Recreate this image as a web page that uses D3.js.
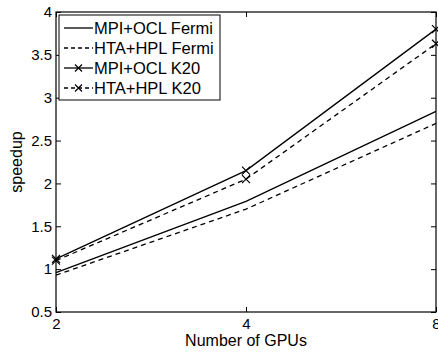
<!DOCTYPE html>
<html>
<head>
<meta charset="utf-8">
<script src="https://cdn.jsdelivr.net/npm/d3@7"></script>
<style>
  body { margin: 0; background: #fff; }
  text { font-family: "Liberation Sans", Arial, sans-serif; fill: #000; }
</style>
</head>
<body>
<div id="chart"></div>
<script>
// data
const gpus = [2, 4, 8];
const mpiFermi = [0.96, 1.79, 2.84];
const htaFermi = [0.93, 1.70, 2.70];
const mpiK20 = [1.12, 2.15, 3.80];
const htaK20 = [1.10, 2.05, 3.63];
const yTicks = [0.5, 1, 1.5, 2, 2.5, 3, 3.5, 4];
const seriesNames = ["MPI+OCL Fermi", "HTA+HPL Fermi", "MPI+OCL K20", "HTA+HPL K20"];

const series = [
  { name: seriesNames[0], vals: mpiFermi, dash: null, mark: false },
  { name: seriesNames[1], vals: htaFermi, dash: "5,4", mark: false },
  { name: seriesNames[2], vals: mpiK20, dash: null, mark: true },
  { name: seriesNames[3], vals: htaK20, dash: "5,4", mark: true }
];

const W = 438, H = 354;
const margin = {top: 12, right: 2, bottom: 42, left: 56};
const width = W - margin.left - margin.right;
const height = H - margin.top - margin.bottom;

const svg = d3.select("#chart").append("svg")
  .attr("width", W).attr("height", H);
const g = svg.append("g")
  .attr("transform", "translate(" + margin.left + "," + margin.top + ")");

const x = d3.scaleLog().base(2).domain([2, 8]).range([0, width]);
const y = d3.scaleLinear().domain([0.5, 4]).range([height, 0]);

// axes, MATLAB style with inward ticks on all sides
const tk = 5;
g.append("g").attr("transform", "translate(0," + height + ")")
  .call(d3.axisBottom(x).tickValues(gpus).tickFormat(d3.format("d")).tickSizeInner(-tk).tickSizeOuter(0).tickPadding(6))
  .call(a => a.select(".domain").remove());
g.append("g")
  .call(d3.axisTop(x).tickValues(gpus).tickFormat("").tickSizeInner(-tk).tickSizeOuter(0))
  .call(a => a.select(".domain").remove());
g.append("g")
  .call(d3.axisLeft(y).tickValues(yTicks).tickFormat(d3.format("")).tickSizeInner(-tk).tickSizeOuter(0).tickPadding(4))
  .call(a => a.select(".domain").remove());
g.append("g").attr("transform", "translate(" + width + ",0)")
  .call(d3.axisRight(y).tickValues(yTicks).tickFormat("").tickSizeInner(-tk).tickSizeOuter(0))
  .call(a => a.select(".domain").remove());
g.selectAll(".tick text").style("font-size", "15px").style("font-family", "Liberation Sans, Arial, sans-serif");
g.selectAll(".tick line").attr("stroke", "#000");

g.append("rect").attr("width", width).attr("height", height)
  .attr("fill", "none").attr("stroke", "#000").attr("stroke-width", 1.2);

// lines
const line = d3.line().x((d, i) => x(gpus[i])).y(d => y(d));
series.forEach(s => {
  g.append("path").datum(s.vals)
    .attr("d", line)
    .attr("fill", "none").attr("stroke", "#000").attr("stroke-width", 1.3)
    .attr("stroke-dasharray", s.dash);
  if (s.mark) {
    g.selectAll(null).data(s.vals).enter().append("path")
      .attr("transform", (d, i) => "translate(" + x(gpus[i]) + "," + y(d) + ")")
      .attr("d", "M-4,-4L4,4M-4,4L4,-4")
      .attr("stroke", "#000").attr("stroke-width", 1.2);
  }
});

// legend
const lg = g.append("g").attr("transform", "translate(3,3)");
lg.append("rect").attr("width", 161).attr("height", 85)
  .attr("fill", "#fff").attr("stroke", "#000").attr("stroke-width", 1);
series.forEach((s, i) => {
  const yy = 13 + i * 20;
  lg.append("line").attr("x1", 5).attr("x2", 34).attr("y1", yy).attr("y2", yy)
    .attr("stroke", "#000").attr("stroke-width", 1.3)
    .attr("stroke-dasharray", s.dash ? "4,3" : null);
  if (s.mark) {
    lg.append("path").attr("transform", "translate(19.5," + yy + ")")
      .attr("d", "M-3.5,-3.5L3.5,3.5M-3.5,3.5L3.5,-3.5")
      .attr("stroke", "#000").attr("stroke-width", 1.2);
  }
  lg.append("text").attr("x", 35).attr("y", yy).attr("dy", "0.35em")
    .style("font-size", "16.5px").text(s.name);
});

// axis titles
svg.append("text").attr("x", margin.left + width / 2).attr("y", 346)
  .attr("text-anchor", "middle").style("font-size", "16px").text("Number of GPUs");
svg.append("text").attr("transform", "translate(22," + (margin.top + height / 2) + ") rotate(-90)")
  .attr("text-anchor", "middle").style("font-size", "16px").text("speedup");
</script>
</body>
</html>
